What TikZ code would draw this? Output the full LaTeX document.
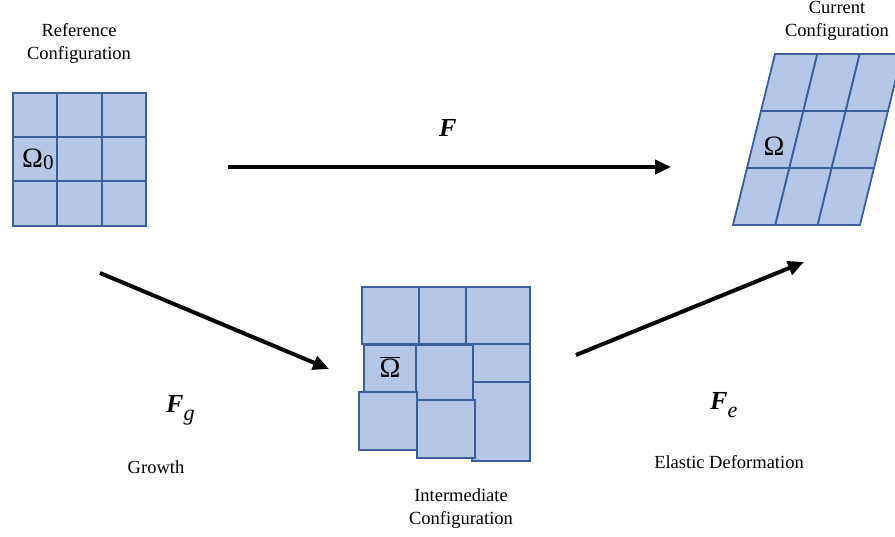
\documentclass[tikz,border=0pt]{standalone}
\usepackage{fontspec}
\setmainfont{Liberation Serif}
\usetikzlibrary{arrows.meta}
\definecolor{cellfill}{HTML}{B4C7E7}
\definecolor{cellline}{HTML}{3B5E9C}
% bold tensor symbol with a large, lowered index
\newcommand\gradsym{{\bfseries\itshape F}}
\newcommand\gradlabel[1]{\gradsym\raisebox{-8pt}{\fontsize{22}{22}\selectfont\itshape #1}}
\begin{document}
\begin{tikzpicture}[x=1pt,y=-1pt,
  cell/.style={draw=cellline,fill=cellfill,line width=1.8pt},
  map/.style={line width=4pt,-{Triangle[length=16pt,width=14pt]}},
  lbl/.style={font=\fontsize{18.5}{23}\selectfont,align=center,inner sep=0pt},
  sym/.style={font=\fontsize{28}{30}\selectfont,inner sep=0pt},
  grad/.style={font=\fontsize{26}{28}\selectfont,inner sep=0pt,anchor=base west}]
\useasboundingbox (0,0) rectangle (895,536);
\clip (0,0) rectangle (895,536);

% reference configuration: regular 3x3 grid
\foreach \i in {0,1,2}
  \foreach \j in {0,1,2}
    \draw[cell] (13+\i*44.3,92.7+\j*44.3) rectangle ++(44.3,44.3);
\node[sym,anchor=base west] (om0) at (22,167)
  {Ω\raisebox{-2.5pt}{\fontsize{21}{21}\selectfont 0}};
\node[lbl] (ref) at (79,43) {Reference\\Configuration};

% current configuration: sheared 3x3 grid
\foreach \u in {0,1,2}
  \foreach \v in {0,1,2}
    \draw[cell] (733+\u*42.33+\v*14,225-\v*57) -- ++(42.33,0) -- ++(14,-57) -- ++(-42.33,0) -- cycle;
\node[sym] (om) at (774,146) {Ω};
\node[lbl] (cur) at (837,21) {Current\\Configuration};

% intermediate configuration: incompatible grown cells
\draw[cell] (361.7,286.7) rectangle (419.3,344);
\draw[cell] (419.3,286.7) rectangle (466.3,344);
\draw[cell] (466.3,286.7) rectangle (530,344);
\draw[cell] (364.3,345) rectangle (415.7,392.3);
\draw[cell] (473.3,344.3) rectangle (530,382.3);
\draw[cell] (471.7,382.3) rectangle (530,461);
\draw[cell] (415.7,345) rectangle (473.3,400);
\draw[cell] (359.3,392.3) rectangle (416.7,450.3);
\draw[cell] (416.7,400) rectangle (475,457.7);
\node[sym] (omb) at (390,367) {$\overline{\hbox{Ω}}$};
\node[lbl] (mid) at (461,509) {Intermediate\\Configuration};

% deformation maps
\coordinate (fa) at (228,167);
\coordinate (fb) at (671,167);
\coordinate (ga) at (100,273);
\coordinate (gb) at (329,369);
\coordinate (ea) at (576,355);
\coordinate (eb) at (804,262);
\draw[map] (fa) -- (fb);
\draw[map] (ga) -- (gb);
\draw[map] (ea) -- (eb);
\node[grad] (F) at (439,136) {\gradsym};
\node[grad] (Fg) at (166,412) {\gradlabel{g}};
\node[grad] (Fe) at (710,409) {\gradlabel{e}};
\node[lbl] (gr) at (156,467) {Growth};
\node[lbl] (el) at (729,462) {Elastic Deformation};
\end{tikzpicture}
\end{document}
